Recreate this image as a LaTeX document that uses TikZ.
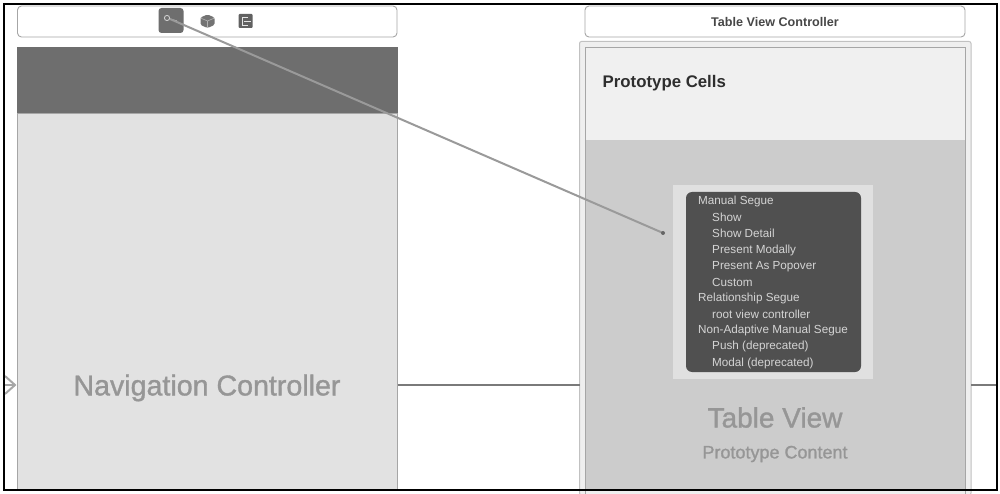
\documentclass[tikz,border=0pt]{standalone}
\usepackage{fontspec}
\setmainfont{Liberation Sans}
\newfontfamily\medfont[FakeBold=1.2]{Liberation Sans}
\usetikzlibrary{arrows.meta}
\definecolor{frameg}{HTML}{A6A6A6}
\definecolor{barg}{HTML}{6E6E6E}
\definecolor{navg}{HTML}{E2E2E2}
\definecolor{headg}{HTML}{F0F0F0}
\definecolor{tableg}{HTML}{CCCCCC}
\definecolor{menug}{HTML}{505050}
\definecolor{menut}{HTML}{D4D4D4}
\definecolor{haloG}{HTML}{E0E0E0}
\definecolor{labelg}{HTML}{969696}
\definecolor{seg}{HTML}{9A9A9A}
\tikzset{
  px/.style={x=1pt,y=-1pt},
  titlebox/.style={draw=frameg,line width=0.9pt,rounded corners=4pt,fill=white,minimum height=31pt,inner sep=0pt},
  panel/.style={draw=frameg,line width=1pt,inner sep=0pt},
  menuitem/.style={anchor=west,inner sep=0pt,text=menut,font=\fontsize{11.7}{13}\selectfont},
  biglabel/.style={text=labelg,inner sep=0pt},
  seguewire/.style={draw=seg,line width=2pt},
}
\begin{document}
\begin{tikzpicture}[px]
\useasboundingbox (0,0) rectangle (1000,494);
\fill[white] (0,0) rectangle (1000,494);
% title bars
\draw[titlebox] (17.5,6) rectangle (397,37);
\draw[titlebox] (585,6) rectangle (965,37);
\node[inner sep=0pt,font=\bfseries\fontsize{12.6}{14}\selectfont,text=black!72] (tvctitle) at (775,21.5) {Table View Controller};
% navigation controller
\fill[navg,draw=frameg,line width=1pt] (17.5,113) rectangle (397,490);
\fill[barg] (17,47) rectangle (397.5,113);
\draw[frameg,line width=0.8pt] (17,113) -- (397.5,113);
\node[biglabel,font=\medfont\fontsize{28.6}{32}\selectfont] (navlabel) at (207,388) {Navigation Controller};
% table view controller
\fill[navg!55!white,draw=frameg!70!white,line width=1pt,rounded corners=2pt] (579.5,41.5) rectangle (971,495);
\fill[headg] (585,48) rectangle (965,140);
\fill[tableg] (585,140) rectangle (965,490);
\draw[frameg,line width=1pt] (585,48) rectangle (965,495);
\node[anchor=west,inner sep=0pt,font=\bfseries\fontsize{16.8}{19}\selectfont,text=black!82] (cells) at (602.5,83.5) {Prototype Cells};
\node[biglabel,font=\medfont\fontsize{28}{30}\selectfont] (tvlabel) at (775,417.5) {Table View};
\node[biglabel,font=\medfont\fontsize{18}{20}\selectfont] (pclabel) at (775,454) {Prototype Content};
% menu
\fill[haloG] (673,185) rectangle (873,379);
\fill[menug,rounded corners=6pt] (686,192) rectangle (861,372);
\node[menuitem] (m1) at (698,201.5) {Manual Segue};
\node[menuitem] (m2) at (712,217.5) {Show};
\node[menuitem] (m3) at (712,233.5) {Show Detail};
\node[menuitem] (m4) at (712,250) {Present Modally};
\node[menuitem] (m5) at (712,266.5) {Present As Popover};
\node[menuitem] (m6) at (712,282.5) {Custom};
\node[menuitem] (m7) at (698,298.5) {Relationship Segue};
\node[menuitem] (m8) at (712,314.5) {root view controller};
\node[menuitem] (m9) at (698,330.5) {Non-Adaptive Manual Segue};
\node[menuitem] (m10) at (712,346.5) {Push (deprecated)};
\node[menuitem] (m11) at (712,363) {Modal (deprecated)};
% scene icons
\node[fill=barg,rounded corners=3pt,minimum width=25pt,minimum height=25pt,inner sep=0pt] (keyicon) at (171,20.5) {};
\draw[white!80!black,line width=0.9pt] (167,18) circle (2.6pt);
\draw[white!80!black,line width=0.9pt] (169.5,19) -- (177,21);
\fill[black!55,rounded corners=1.5pt] (207.5,14.5) -- (214.5,17.5) -- (214.5,25) -- (207.5,28) -- (200.5,25) -- (200.5,17.5) -- cycle;
\draw[white!70!black,line width=0.6pt] (200.5,18) -- (207.5,21) -- (214.5,18) (207.5,21) -- (207.5,28);
\fill[black!62,rounded corners=1pt] (238.5,14) rectangle (252.5,28);
\draw[white!90!black,line width=0.9pt] (248,17) -- (242,17) -- (242,25) -- (248,25);
\draw[white!90!black,line width=0.9pt] (244,21) -- (251,21);
% connectors
\coordinate (seguestart) at (170,19);
\coordinate (segueend) at (663,233);
\coordinate (navright) at (397.5,385);
\coordinate (tvcleft) at (579.5,385);
\coordinate (tvcright) at (971,385);
\coordinate (frameright) at (996,385);
\coordinate (entrystart) at (4,385);
\coordinate (entrytip) at (15,385);
\draw[black!52,line width=1.5pt] (navright) -- (tvcleft);
\draw[black!52,line width=1.5pt] (tvcright) -- (frameright);
\draw[frameg,line width=2pt] (entrystart) -- (entrytip);
\draw[frameg,line width=2pt] (5,376) -- (entrytip) -- (5,394);
\draw[seguewire] (seguestart) -- (segueend);
\fill[black!60] (segueend) circle (2pt);
% outer frame
\draw[black,line width=2pt] (4,4) rectangle (996.5,490);
\end{tikzpicture}
\end{document}
